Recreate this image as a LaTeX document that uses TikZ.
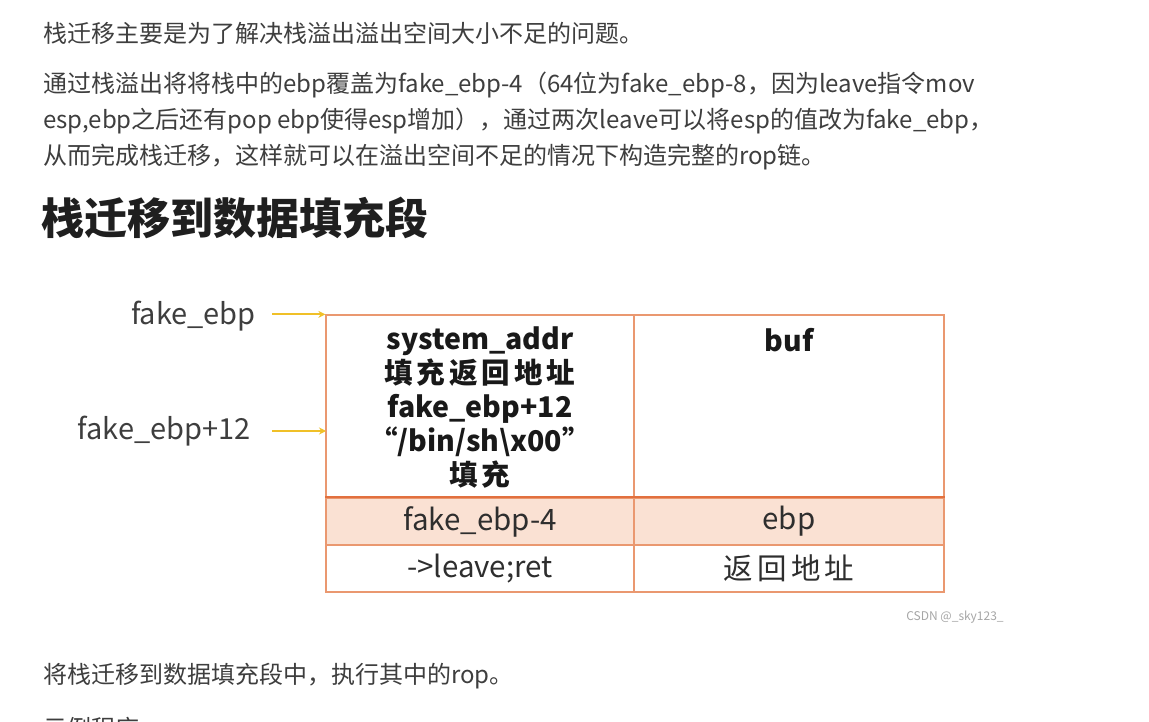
\documentclass[tikz,border=0pt]{standalone}
\usepackage{fontspec}
\setmainfont{Noto Sans CJK SC}
\usetikzlibrary{arrows.meta}

\definecolor{bodygray}{RGB}{62,62,62}
\definecolor{cellline}{RGB}{234,152,112}
\definecolor{celldark}{RGB}{226,112,62}
\definecolor{cellfill}{RGB}{250,225,211}
\definecolor{ptryellow}{RGB}{240,192,40}

\newcommand{\wide}[1]{{\addfontfeature{LetterSpace=14}#1}}

\tikzset{
  bodytext/.style={anchor=west, inner sep=0pt, text=bodygray, font=\fontsize{24}{24}\selectfont},
  cellbox/.style={draw=cellline, line width=1.3pt, inner sep=0pt},
  celltext/.style={inner sep=0pt, text=black!82, font=\fontsize{29.5}{34}\selectfont},
  boldtext/.style={inner sep=0pt, text=black!90, font=\fontsize{28.5}{34}\selectfont\bfseries},
  ptrlabel/.style={anchor=east, inner sep=0pt, text=bodygray, font=\fontsize{29}{29}\selectfont},
  ptrarrow/.style={draw=ptryellow, line width=2pt, -{Stealth[length=7pt,width=7pt]}}
}

\begin{document}
\begin{tikzpicture}[x=1pt, y=-1pt]
    \useasboundingbox (0,0) rectangle (1149,722);
    \fill [white] (0,0) rectangle (1149,722);

    % intro text
    \node [bodytext] at (43,33) (intro) {栈迁移主要是为了解决栈溢出溢出空间大小不足的问题。};
    \node [bodytext] at (43,85) (para1) {通过栈溢出将将栈中的ebp覆盖为fake\_ebp-4（64位为fake\_ebp-8，因为leave指令mov};
    \node [bodytext] at (43,121) (para2) {esp,ebp之后还有pop ebp使得esp增加），通过两次leave可以将esp的值改为fake\_ebp，};
    \node [bodytext] at (43,157) (para3) {从而完成栈迁移，这样就可以在溢出空间不足的情况下构造完整的rop链。};
    \node [anchor=west, inner sep=0pt, text=black!88, font=\fontsize{43}{43}\selectfont\bfseries] at (41,218) (title) {栈迁移到数据填充段};

    % stack table
    \node [cellbox, minimum width=308pt, minimum height=183pt] at (480,406.5) (sys) {};
    \node [cellbox, minimum width=310pt, minimum height=183pt] at (789,406.5) (buf) {};
    \node [cellbox, fill=cellfill, minimum width=308pt, minimum height=47pt] at (480,521.5) (febp) {};
    \node [cellbox, fill=cellfill, minimum width=310pt, minimum height=47pt] at (789,521.5) (ebp) {};
    \node [cellbox, minimum width=308pt, minimum height=47pt] at (480,568.5) (lret) {};
    \node [cellbox, minimum width=310pt, minimum height=47pt] at (789,568.5) (ret) {};
    \path [draw=celldark, line width=2.2pt] (febp.north west) -- (ebp.north east);

    \node [boldtext, align=center] at (480,408) (systxt) {system\_addr\\\wide{填充返回地址}\\fake\_ebp+12\\“/bin/sh\textbackslash x00”\\\wide{填充}};
    \node [boldtext] at (789,340) (buftxt) {buf};
    \node [celltext] at (febp.center) (febptxt) {fake\_ebp-4};
    \node [celltext] at (ebp.center) (ebptxt) {ebp};
    \node [celltext] at (lret.center) (lrettxt) {->leave;ret};
    \node [celltext] at (ret.center) (rettxt) {\wide{返回地址}};

    % pointers
    \node [ptrlabel] at (256,316) (fe) {fake\_ebp};
    \node [ptrlabel] at (251,431) (fe12) {fake\_ebp+12};
    \coordinate (fe12in) at (326,431);
    \path [ptrarrow] ([xshift=16pt]fe.east |- sys.north west) -- (sys.north west);
    \path [ptrarrow] ([xshift=21pt]fe12.east) -- (fe12in);

    \node [inner sep=0pt, text=black!35, font=\fontsize{12}{12}\selectfont] at (955,617) (csdn) {CSDN @\_sky123\_};

    % closing text
    \node [bodytext] at (43,676) (outro) {将栈迁移到数据填充段中，执行其中的rop。};
    \node [bodytext] at (43,728) (next) {示例程序};
\end{tikzpicture}
\end{document}
